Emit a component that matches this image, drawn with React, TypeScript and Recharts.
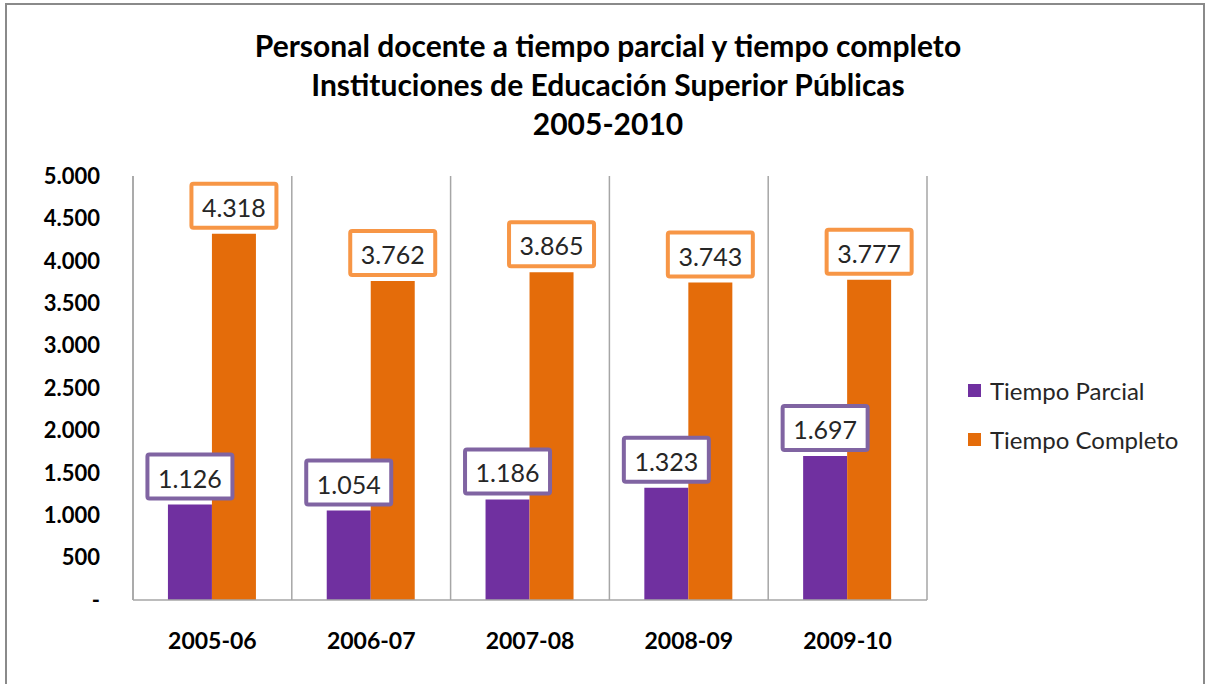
import React from 'react';
import { BarChart, Bar, XAxis, YAxis, CartesianGrid, LabelList, Legend } from 'recharts';

const categories = ['2005-06', '2006-07', '2007-08', '2008-09', '2009-10'];
const tiempoParcial = [1126, 1054, 1186, 1323, 1697];
const tiempoCompleto = [4318, 3762, 3865, 3743, 3777];
const yTicks = [0, 500, 1000, 1500, 2000, 2500, 3000, 3500, 4000, 4500, 5000];
const titleLines = [
  'Personal docente a tiempo parcial y tiempo completo',
  'Instituciones de Educación Superior Públicas',
  '2005-2010',
];
const seriesNames = ['Tiempo Parcial', 'Tiempo Completo'];
const barColors = ['#7030A0', '#E46C0A'];
const labelBorders = ['#8064A2', '#F79646'];

const data = categories.map((c, i) => ({
  cat: c,
  parcial: tiempoParcial[i],
  completo: tiempoCompleto[i],
}));

const FONT = 'Lato, "Open Sans", sans-serif';

const fmt = (v: number) => {
  if (v === 0) return '-';
  return v.toLocaleString('de-DE');
};

const makeLabel = (border: string) => (props: any) => {
  const { x, y, width, value } = props;
  const w = 85;
  const h = 44;
  const cx = x + width / 2;
  const bottom = y - 6;
  return (
    <g>
      <rect x={cx - w / 2} y={bottom - h} width={w} height={h} fill="#fff" stroke={border} strokeWidth={4} rx={2} />
      <text x={cx} y={bottom - h / 2 + 1} textAnchor="middle" dominantBaseline="central" fontFamily={FONT} fontSize={25} fill="#262626">
        {fmt(value)}
      </text>
    </g>
  );
};

const renderLegend = () => (
  <div style={{ fontFamily: FONT, fontSize: 24, color: '#262626' }}>
    {seriesNames.map((n, i) => (
      <div key={n} style={{ display: 'flex', alignItems: 'center', height: 49 }}>
        <span style={{ display: 'inline-block', width: 13, height: 13, background: barColors[i], marginRight: 9 }} />
        <span>{n}</span>
      </div>
    ))}
  </div>
);

export default function App() {
  const n = categories.length;
  return (
    <div style={{ position: 'absolute', left: 0, top: 0, width: 1210, height: 684, background: '#fff', overflow: 'hidden' }}>
      <div style={{ position: 'absolute', left: 5, top: 3, width: 1200, height: 690, border: '2px solid #8a8a8a', boxSizing: 'border-box' }} />
      <div style={{ position: 'absolute', left: 0, top: 26, width: 1216, textAlign: 'center', fontFamily: FONT, fontWeight: 700, fontSize: 30, lineHeight: '39px', color: '#000' }}>
        {titleLines.map((t) => (
          <div key={t}>{t}</div>
        ))}
      </div>
      <div style={{ position: 'absolute', left: 0, top: 0 }}>
        <BarChart
          width={1210}
          height={684}
          data={data}
          margin={{ top: 176, right: 283, bottom: 54, left: 8 }}
          barCategoryGap="22%"
          barGap={0}
        >
          <CartesianGrid
            horizontal={false}
            vertical={true}
            stroke="#A6A6A6"
            strokeWidth={1.5}
            verticalCoordinatesGenerator={({ offset }: any) =>
              Array.from({ length: n + 1 }, (_, i) => offset.left + (offset.width * i) / n)
            }
          />
          <XAxis
            dataKey="cat"
            axisLine={{ stroke: '#A6A6A6', strokeWidth: 1.5 }}
            tickLine={false}
            tickSize={0}
            tickMargin={33}
            height={30}
            tick={{ fontFamily: FONT, fontWeight: 700, fontSize: 23, fill: '#000' }}
          />
          <YAxis
            domain={[0, 5000]}
            ticks={yTicks}
            width={125}
            axisLine={{ stroke: '#A6A6A6', strokeWidth: 1.5 }}
            tickLine={false}
            tickSize={0}
            tickMargin={33}
            tickFormatter={fmt}
            tick={{ fontFamily: FONT, fontWeight: 700, fontSize: 22, fill: '#000' }}
          />
          <Legend
            content={renderLegend}
            layout="horizontal"
            verticalAlign="middle"
            align="center"
            wrapperStyle={{ position: 'absolute', left: 968, top: 366, width: 240 }}
          />
          <Bar dataKey="parcial" name={seriesNames[0]} fill={barColors[0]} isAnimationActive={false}>
            <LabelList dataKey="parcial" content={makeLabel(labelBorders[0])} />
          </Bar>
          <Bar dataKey="completo" name={seriesNames[1]} fill={barColors[1]} isAnimationActive={false}>
            <LabelList dataKey="completo" content={makeLabel(labelBorders[1])} />
          </Bar>
        </BarChart>
      </div>
    </div>
  );
}
